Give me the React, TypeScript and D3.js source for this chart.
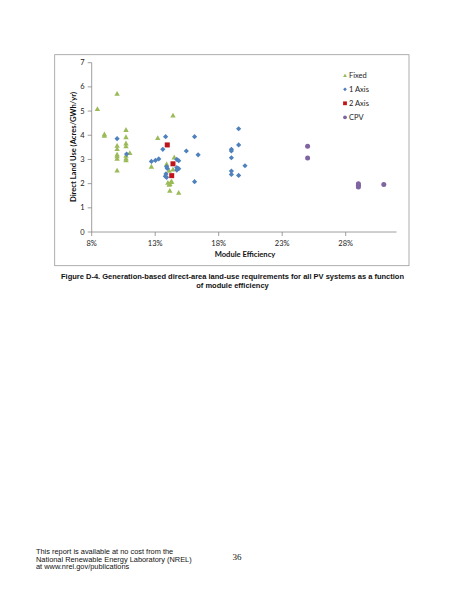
import React from 'react';
import * as d3 from 'd3';

// module efficiency (%) and direct land use (acres/GWh/yr)
const fixedEff = [8.45, 9.0, 9.0, 10.0, 10.0, 10.0, 10.0, 10.0, 10.0, 10.0, 10.7, 10.7, 10.7, 10.7, 10.7, 10.7, 10.7, 11.0, 13.2, 12.7, 14.4, 14.5, 13.9, 14.1, 14.0, 14.15, 14.25, 14.3, 14.1, 14.15, 14.85, 14.4];
const fixedUse = [5.10, 4.06, 4.0, 5.73, 3.58, 3.45, 3.22, 3.05, 3.15, 2.56, 4.24, 3.94, 3.68, 3.56, 3.17, 3.06, 2.98, 3.28, 3.90, 2.72, 4.83, 3.10, 2.82, 2.55, 2.05, 2.0, 2.08, 2.1, 1.97, 1.72, 1.64, 2.6];

const oneAxisEff = [10.0, 10.75, 12.7, 13.02, 13.28, 13.6, 13.82, 13.9, 13.95, 13.85, 13.8, 13.9, 14.7, 14.85, 14.7, 14.85, 14.7, 15.45, 16.1, 16.38, 16.1, 19.0, 19.0, 19.0, 19.0, 19.0, 19.57, 19.57, 19.57, 20.07];
const oneAxisUse = [3.86, 3.22, 2.92, 2.96, 3.02, 3.42, 3.94, 2.7, 2.63, 2.4, 2.3, 2.26, 3.0, 2.95, 2.66, 2.62, 2.56, 3.35, 3.94, 3.19, 2.08, 3.42, 3.35, 3.07, 2.52, 2.38, 4.27, 3.6, 2.34, 2.74];

const twoAxisEff = [13.95, 14.4, 14.3];
const twoAxisUse = [3.6, 2.82, 2.33];

const cpvEff = [25.0, 25.0, 29.0, 29.0, 29.0, 31.0];
const cpvUse = [3.55, 3.06, 2.0, 1.93, 1.86, 1.96];

const xTicks = [0.08, 0.13, 0.18, 0.23, 0.28];
const yTicks = [0, 1, 2, 3, 4, 5, 6, 7];

const legendNames = ['Fixed', '1 Axis', '2 Axis', 'CPV'];

const COLORS = {
    fixed: '#9BBB59',
    one: '#4F81BD',
    two: '#C0141B',
    cpv: '#8064A2'
};

const CHART_FONT = 'Lato, "Open Sans", sans-serif';
const PAGE_FONT = '"Liberation Sans", Arial, sans-serif';

const Marker = ({ kind, x, y, s }: { kind: string; x: number; y: number; s: number }) => {
    if (kind === 'fixed') {
        const h = s * 0.9;
        return <path d={`M${x},${y - h / 2}L${x + s / 2},${y + h / 2}L${x - s / 2},${y + h / 2}Z`} fill={COLORS.fixed} />;
    }
    if (kind === 'one') {
        const r = s / 2;
        return <path d={`M${x},${y - r}L${x + r},${y}L${x},${y + r}L${x - r},${y}Z`} fill={COLORS.one} />;
    }
    if (kind === 'two') {
        return <rect x={x - s / 2} y={y - s / 2} width={s} height={s} fill={COLORS.two} />;
    }
    return <circle cx={x} cy={y} r={s / 2} fill={COLORS.cpv} />;
};

export default function App() {
    const xScale = d3.scaleLinear().domain([0.08, 0.32]).range([91.7, 396.5]);
    const yScale = d3.scaleLinear().domain([0, 7]).range([232, 62.7]);
    const fmt = d3.format('.0%');

    const series = [
        { kind: 'fixed', eff: fixedEff, use: fixedUse, size: 5.4 },
        { kind: 'one', eff: oneAxisEff, use: oneAxisUse, size: 5.2 },
        { kind: 'two', eff: twoAxisEff, use: twoAxisUse, size: 5 },
        { kind: 'cpv', eff: cpvEff, use: cpvUse, size: 5 }
    ];

    const legendKinds = ['fixed', 'one', 'two', 'cpv'];

    return (
        <svg width={463} height={599} style={{ position: 'absolute', left: 0, top: 0, background: '#fff' }}>
            <rect x={0} y={0} width={463} height={599} fill='#fff' />
            {/* chart frame */}
            <rect x={54.7} y={54.7} width={354.3} height={211} fill='none' stroke='#9a9a9a' strokeWidth={0.8} />

            {/* axes */}
            <line x1={xScale(0.08)} x2={xScale(0.08)} y1={yScale(0)} y2={yScale(7)} stroke='#868686' strokeWidth={0.8} />
            <line x1={xScale(0.08)} x2={xScale(0.32)} y1={yScale(0)} y2={yScale(0)} stroke='#868686' strokeWidth={0.8} />
            {yTicks.map(t => (
                <g key={`y-${t}`}>
                    <line x1={xScale(0.08) - 4} x2={xScale(0.08)} y1={yScale(t)} y2={yScale(t)} stroke='#868686' strokeWidth={0.8} />
                    <text x={xScale(0.08) - 7} y={yScale(t) + 2.6} textAnchor='end' fontSize={7.5} fontFamily={CHART_FONT} fill='#222'>{t}</text>
                </g>
            ))}
            {xTicks.map(t => (
                <g key={`x-${t}`}>
                    <line x1={xScale(t)} x2={xScale(t)} y1={yScale(0)} y2={yScale(0) + 4} stroke='#868686' strokeWidth={0.8} />
                    <text x={xScale(t)} y={yScale(0) + 14} textAnchor='middle' fontSize={7.5} fontFamily={CHART_FONT} fill='#222'>{fmt(t)}</text>
                </g>
            ))}

            <text x={245} y={257} textAnchor='middle' fontSize={7.6} fontWeight='bold' fontFamily={CHART_FONT} fill='#111'>Module Efficiency</text>
            <text transform='translate(76,147) rotate(-90)' textAnchor='middle' fontSize={7.6} fontWeight='bold' fontFamily={CHART_FONT} fill='#111'>Direct Land Use (Acres/GWh/yr)</text>

            {/* points */}
            {series.map(s => s.eff.map((e, i) => (
                <Marker key={`${s.kind}-${i}`} kind={s.kind} x={xScale(e / 100)} y={yScale(s.use[i])} s={s.size} />
            )))}

            {/* legend */}
            {legendNames.map((name, i) => (
                <g key={name}>
                    <Marker kind={legendKinds[i]} x={345} y={75.3 + i * 14} s={3.8} />
                    <text x={349} y={78 + i * 14} fontSize={7.5} fontFamily={CHART_FONT} fill='#222'>{name}</text>
                </g>
            ))}

            {/* caption */}
            <text x={232.5} y={279} textAnchor='middle' fontSize={7.5} fontWeight='bold' fontFamily={PAGE_FONT} fill='#111'>Figure D-4. Generation-based direct-area land-use requirements for all PV systems as a function</text>
            <text x={232.5} y={287.5} textAnchor='middle' fontSize={7.5} fontWeight='bold' fontFamily={PAGE_FONT} fill='#111'>of module efficiency</text>

            {/* footer */}
            <g fontSize={7.4} fontFamily={PAGE_FONT} fill='#111'>
                <text x={36} y={554}>This report is available at no cost from the</text>
                <text x={36} y={561.5}>National Renewable Energy Laboratory (NREL)</text>
                <text x={36} y={569}>at www.nrel.gov/publications</text>
            </g>
            <text x={237} y={560} textAnchor='middle' fontSize={9} fontFamily='"Liberation Serif", "Times New Roman", serif' fill='#111'>36</text>
        </svg>
    );
}
